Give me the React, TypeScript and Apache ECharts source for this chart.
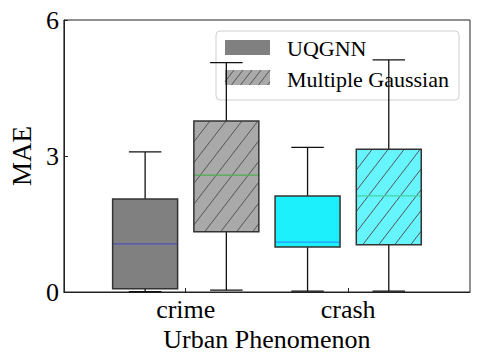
import React, { useEffect, useRef } from "react";
import * as echarts from "echarts";

const categories = ["crime", "crash"];
const categoryPositions = [1, 2];
const yTicks = [0, 3, 6];
// [min, q1, median, q3, max]
const uqgnnStats = [
  [0.01, 0.07, 1.06, 2.05, 3.09],
  [0.02, 0.99, 1.1, 2.12, 3.19],
];
const multipleGaussianStats = [
  [0.04, 1.33, 2.58, 3.77, 5.06],
  [0.02, 1.04, 2.12, 3.15, 5.12],
];
const seriesNames = ["UQGNN", "Multiple Gaussian"];

const uqgnnFill = ["#808080", "#1cf0fc"];
const uqgnnMedian = ["#5050b8", "#2a94ff"];
const mgFill = ["#a9a9a9", "#66f5fc"];
const mgMedian = ["#4caf50", "#44d4a0"];

const FONT = "Liberation Serif";
const OFFSET = 0.25;
const BOX_W = 0.4;
const HATCH_STEP = 16;
const HATCH_K = 0.77;

function hatchLines(x0: number, y0: number, x1: number, y1: number, step: number, k: number, color: string) {
  const h = y1 - y0;
  const out: any[] = [];
  for (let c = x0 - h * k; c <= x1; c += step) {
    const s0 = Math.max(0, (x0 - c) / k);
    const s1 = Math.min(h, (x1 - c) / k);
    if (s1 - s0 < 0.5) continue;
    out.push({
      type: "line",
      shape: { x1: c + s0 * k, y1: y1 - s0, x2: c + s1 * k, y2: y1 - s1 },
      style: { stroke: color, lineWidth: 1 },
      silent: true,
    });
  }
  return out;
}

function makeRender(fills: string[], medians: string[], hatched: boolean) {
  return (params: any, api: any) => {
    const idx = params.dataIndex;
    const x = api.value(0);
    const mn = api.value(1), q1 = api.value(2), md = api.value(3), q3 = api.value(4), mx = api.value(5);
    const [xl, yq3] = api.coord([x - BOX_W / 2, q3]);
    const [xr, yq1] = api.coord([x + BOX_W / 2, q1]);
    const [xc, ymd] = api.coord([x, md]);
    const ymn = api.coord([x, mn])[1];
    const ymx = api.coord([x, mx])[1];
    const capHalf = (xr - xl) / 4;
    const lineStyle = { stroke: "#111", lineWidth: 1.3 };
    const children: any[] = [
      { type: "line", shape: { x1: xc, y1: ymx, x2: xc, y2: yq3 }, style: lineStyle },
      { type: "line", shape: { x1: xc, y1: yq1, x2: xc, y2: ymn }, style: lineStyle },
      { type: "line", shape: { x1: xc - capHalf, y1: ymx, x2: xc + capHalf, y2: ymx }, style: lineStyle },
      { type: "line", shape: { x1: xc - capHalf, y1: ymn, x2: xc + capHalf, y2: ymn }, style: lineStyle },
      { type: "rect", shape: { x: xl, y: yq3, width: xr - xl, height: yq1 - yq3 }, style: { fill: fills[idx], stroke: "none" } },
    ];
    if (hatched) children.push(...hatchLines(xl, yq3, xr, yq1, HATCH_STEP, HATCH_K, "#555"));
    children.push(
      { type: "line", shape: { x1: xl, y1: ymd, x2: xr, y2: ymd }, style: { stroke: medians[idx], lineWidth: 1.3 } },
      { type: "rect", shape: { x: xl, y: yq3, width: xr - xl, height: yq1 - yq3 }, style: { fill: "none", stroke: "#333", lineWidth: 1.5 } }
    );
    return { type: "group", children };
  };
}

export default function App() {
  const ref = useRef<HTMLDivElement>(null);
  useEffect(() => {
    document.body.style.margin = "0";
    const chart = echarts.init(ref.current!, null, { renderer: "svg" });
    const uData = categoryPositions.map((p, i) => [p - OFFSET, ...uqgnnStats[i]]);
    const mData = categoryPositions.map((p, i) => [p + OFFSET, ...multipleGaussianStats[i]]);

    const legendX = 216, legendY = 31;
    const patchX = 225, patchW = 45, patchH = 15;
    const legendChildren: any[] = [
      { type: "rect", shape: { x: legendX, y: legendY, width: 243, height: 69, r: 4 }, style: { fill: "rgba(255,255,255,0.8)", stroke: "#d0d0d0", lineWidth: 1 } },
      { type: "rect", shape: { x: patchX, y: 40, width: patchW, height: patchH }, style: { fill: uqgnnFill[0] } },
      { type: "rect", shape: { x: patchX, y: 70, width: patchW, height: patchH }, style: { fill: mgFill[0] } },
      ...hatchLines(patchX, 70, patchX + patchW, 70 + patchH, 9, HATCH_K, "#555"),
      { type: "text", x: 287, y: 48, style: { text: seriesNames[0], fontSize: 22, fontFamily: FONT, fill: "#000", verticalAlign: "middle" } },
      { type: "text", x: 287, y: 79, style: { text: seriesNames[1], fontSize: 22, fontFamily: FONT, fill: "#000", verticalAlign: "middle" } },
    ];

    chart.setOption({
      animation: false,
      textStyle: { fontFamily: FONT },
      grid: { left: 58, right: 9, top: 20, bottom: 68, show: true, borderColor: "#222", borderWidth: 1, backgroundColor: "transparent" },
      xAxis: {
        type: "value",
        min: 0.25,
        max: 2.75,
        splitLine: { show: false },
        axisLine: { show: true, lineStyle: { color: "#222" } },
        axisTick: { show: true, inside: true, length: 4, customValues: categoryPositions, lineStyle: { color: "#222" } },
        axisLabel: {
          customValues: categoryPositions,
          formatter: (v: number) => categories[Math.round(v) - 1] ?? "",
          fontSize: 26,
          fontFamily: FONT,
          color: "#000",
          margin: 4,
        },
        name: "Urban Phenomenon",
        nameLocation: "middle",
        nameGap: 27,
        nameTextStyle: { fontSize: 26, fontFamily: FONT, color: "#000" },
      },
      yAxis: {
        type: "value",
        min: 0,
        max: 6,
        interval: 3,
        splitLine: { show: false },
        axisLine: { show: true, lineStyle: { color: "#222" } },
        axisTick: { show: true, inside: true, length: 4, lineStyle: { color: "#222" } },
        axisLabel: {
          customValues: yTicks,
          fontSize: 26,
          fontFamily: FONT,
          color: "#000",
          margin: 5,
        },
        name: "MAE",
        nameLocation: "middle",
        nameGap: 26,
        nameRotate: 90,
        nameTextStyle: { fontSize: 27, fontFamily: FONT, color: "#000" },
      },
      series: [
        { type: "custom", name: seriesNames[0], renderItem: makeRender(uqgnnFill, uqgnnMedian, false), data: uData, encode: { x: 0, y: [1, 2, 3, 4, 5] }, clip: false },
        { type: "custom", name: seriesNames[1], renderItem: makeRender(mgFill, mgMedian, true), data: mData, encode: { x: 0, y: [1, 2, 3, 4, 5] }, clip: false },
      ],
      graphic: [{ type: "group", z: 100, children: legendChildren }],
    });
    return () => chart.dispose();
  }, []);
  return <div ref={ref} style={{ width: 479, height: 360 }} />;
}
